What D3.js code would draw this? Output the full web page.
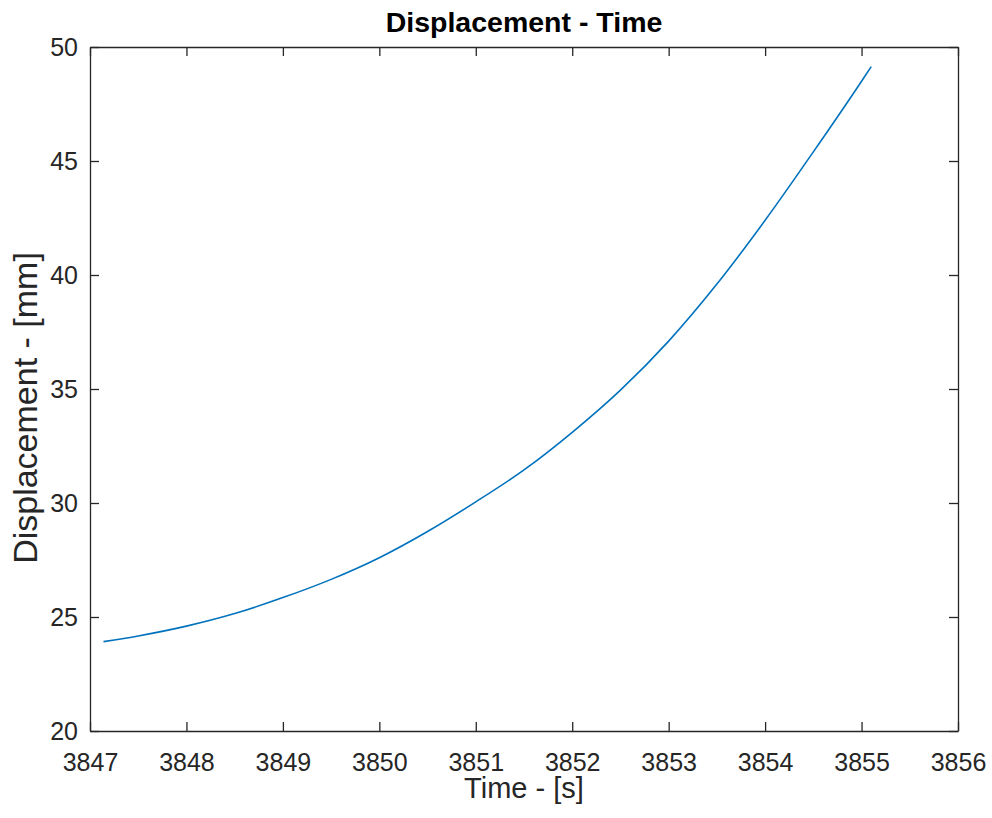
<!DOCTYPE html>
<html>
<head>
<meta charset="utf-8">
<script src="https://cdn.jsdelivr.net/npm/d3@7"></script>
<style>
  html, body { margin: 0; padding: 0; background: #fff; }
  svg { display: block; }
  text { font-family: "Liberation Sans", Arial, Helvetica, sans-serif; }
</style>
</head>
<body>
<svg id="chart" width="992" height="818"></svg>
<script>
// ---- data ----
const timeValues = [3847.14, 3847.5, 3848.0, 3848.5, 3849.0, 3849.5, 3850.0, 3850.5, 3851.0,
                    3851.5, 3852.0, 3852.5, 3853.0, 3853.5, 3854.0, 3854.5, 3855.0, 3855.1];
const displacementValues = [23.92, 24.17, 24.6, 25.15, 25.85, 26.65, 27.6, 28.75, 30.05,
                            31.45, 33.1, 34.95, 37.1, 39.6, 42.4, 45.4, 48.5, 49.14];
const xTicks = [3847, 3848, 3849, 3850, 3851, 3852, 3853, 3854, 3855, 3856];
const yTicks = [20, 25, 30, 35, 40, 45, 50];
const titleText = "Displacement - Time";
const xLabelText = "Time - [s]";
const yLabelText = "Displacement - [mm]";

// ---- layout ----
const margin = { left: 90, top: 47, right: 34, bottom: 87 };
const W = 992, H = 818;
const pw = W - margin.left - margin.right;
const ph = H - margin.top - margin.bottom;
const axisColor = "#262626";

const svg = d3.select("#chart");
const g = svg.append("g").attr("transform", `translate(${margin.left},${margin.top})`);

const x = d3.scaleLinear().domain([3847, 3856]).range([0, pw]);
const y = d3.scaleLinear().domain([20, 50]).range([ph, 0]);

// line
const data = timeValues.map((t, i) => ({ t, v: displacementValues[i] }));
g.append("path")
  .datum(data)
  .attr("fill", "none")
  .attr("stroke", "#0072BD")
  .attr("stroke-width", 1.6)
  .attr("d", d3.line().x(d => x(d.t)).y(d => y(d.v)).curve(d3.curveMonotoneX));

function styleAxis(sel, fontSize) {
  sel.selectAll("path.domain").attr("stroke", axisColor).attr("stroke-width", 1.3);
  sel.selectAll(".tick line").attr("stroke", axisColor).attr("stroke-width", 1.3);
  sel.selectAll(".tick text").attr("fill", axisColor)
     .style("font-size", fontSize + "px")
     .style("font-family", '"Liberation Sans", Arial, sans-serif');
}

// bottom
const gx = g.append("g").attr("transform", `translate(0,${ph})`)
  .call(d3.axisBottom(x).tickValues(xTicks).tickFormat(d3.format("d"))
        .tickSizeInner(-9).tickSizeOuter(0).tickPadding(22));
styleAxis(gx, 25);
// top
const gt = g.append("g")
  .call(d3.axisTop(x).tickValues(xTicks).tickFormat("")
        .tickSizeInner(-9).tickSizeOuter(0));
styleAxis(gt, 25);
// left
const gy = g.append("g")
  .call(d3.axisLeft(y).tickValues(yTicks).tickFormat(d3.format("d"))
        .tickSizeInner(-9).tickSizeOuter(0).tickPadding(12));
styleAxis(gy, 25);
// right
const gr = g.append("g").attr("transform", `translate(${pw},0)`)
  .call(d3.axisRight(y).tickValues(yTicks).tickFormat("")
        .tickSizeInner(-9).tickSizeOuter(0));
styleAxis(gr, 25);

// title
svg.append("text")
  .attr("x", margin.left + pw / 2).attr("y", 32)
  .attr("text-anchor", "middle")
  .attr("fill", "#000")
  .style("font-size", "28.5px").style("font-weight", "bold")
  .text(titleText);

// x label
svg.append("text")
  .attr("x", margin.left + pw / 2).attr("y", 798)
  .attr("text-anchor", "middle")
  .attr("fill", axisColor)
  .style("font-size", "29px")
  .text(xLabelText);

// y label
svg.append("text")
  .attr("transform", `translate(37,408) rotate(-90)`)
  .attr("text-anchor", "middle")
  .attr("fill", axisColor)
  .style("font-size", "34px")
  .text(yLabelText);
</script>
</body>
</html>
